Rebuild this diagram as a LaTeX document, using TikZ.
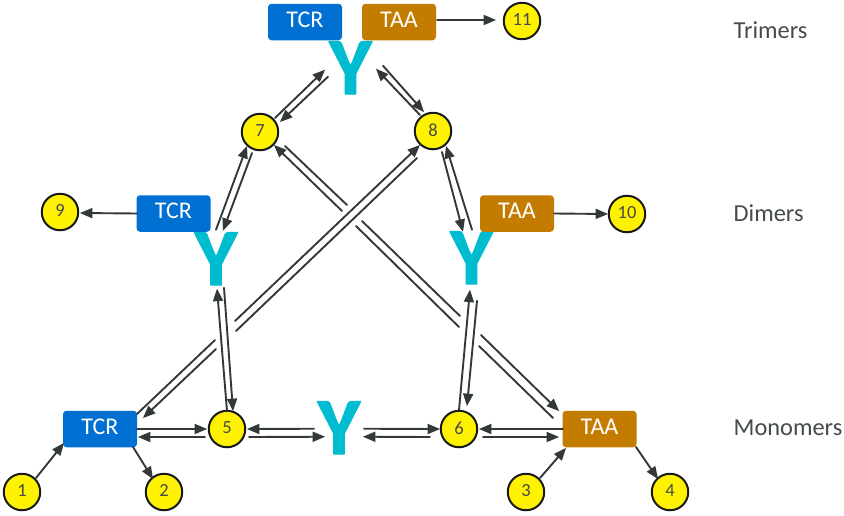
\documentclass[tikz,border=0pt]{standalone}
\usepackage{fontspec}
\setmainfont{Carlito}
\newfontfamily\yfont[FakeBold=1.6]{Carlito Bold}
\usetikzlibrary{arrows}
\definecolor{tcrblue}{HTML}{0070D2}
\definecolor{taabrown}{HTML}{C47C00}
\definecolor{ycyan}{HTML}{00BCD0}
\definecolor{linkgrey}{HTML}{333838}
\definecolor{labelgrey}{HTML}{454A4A}
\tikzset{
	numnode/.style={circle,draw=black!90,line width=2pt,fill=yellow,minimum size=36.5pt,inner sep=0pt,text=labelgrey,text depth=2.5pt,font=\fontsize{18.5}{18.5}\selectfont},
	tcrbox/.style={rectangle,rounded corners=3.5pt,fill=tcrblue,minimum width=74pt,minimum height=36.5pt,inner sep=0pt,text=white,text depth=5pt,font=\fontsize{24}{24}\selectfont},
	taabox/.style={tcrbox,fill=taabrown},
	ymark/.style={anchor=base,inner sep=0pt,text=ycyan,font=\fontsize{81}{81}\yfont},
	rowlabel/.style={anchor=base west,inner sep=0pt,text=labelgrey,font=\fontsize{24.4}{24.4}\selectfont},
	link/.style={line width=1.9pt,color=linkgrey},
}
\begin{document}
\begin{tikzpicture}[line cap=round,line join=round,>=triangle 45,x=1pt,y=-1pt]
	\useasboundingbox (0,0) rectangle (844,515);
	% antibodies
	\node[ymark] (yM) at (339,454) {Y};
	\node[ymark] (yL) at (216,285) {Y};
	\node[ymark] (yR) at (471.5,284) {Y};
	\node[ymark] (yT) at (350.5,94) {Y};
	% antigen boxes
	\node[tcrbox] (tcrM) at (100,429) {TCR};
	\node[taabox] (taaM) at (599.5,429) {TAA};
	\node[tcrbox] (tcrD) at (173.5,213.5) {TCR};
	\node[taabox] (taaD) at (517,213.5) {TAA};
	\node[tcrbox] (tcrT) at (305,22) {TCR};
	\node[taabox] (taaT) at (399,22) {TAA};
	% states
	\node[numnode] (n1) at (22,492) {1};
	\node[numnode] (n2) at (164,492) {2};
	\node[numnode] (n3) at (526,492) {3};
	\node[numnode] (n4) at (670,492) {4};
	\node[numnode] (n5) at (227,429) {5};
	\node[numnode] (n6) at (459,429) {6};
	\node[numnode] (n7) at (260,132) {7};
	\node[numnode] (n8) at (433,131) {8};
	\node[numnode] (n9) at (60,212) {9};
	\node[numnode] (n10) at (627,214) {10};
	\node[numnode] (n11) at (522,21) {11};
	% row labels
	\node[rowlabel] (trimers) at (733.5,38) {Trimers};
	\node[rowlabel] (dimers) at (733.5,221) {Dimers};
	\node[rowlabel] (monomers) at (733.5,435) {Monomers};
	% gap ends of the crossing lines
	\coordinate (ga1) at (215,340);
	\coordinate (ga2) at (235,321);
	\coordinate (gb1) at (216,349);
	\coordinate (gb2) at (236,331);
	\coordinate (gc1) at (347,205);
	\coordinate (gc2) at (362,221);
	\coordinate (gc3) at (460,316);
	\coordinate (gc4) at (481,335);
	\coordinate (gd1) at (342,211);
	\coordinate (gd2) at (356,226);
	\coordinate (gd3) at (459,327);
	\coordinate (gd4) at (479,346);
	% single arrows
	\draw[link,->] ([shift={(14,-14)}]n1.center) -- ([shift={(-36,14)}]tcrM.center);
	\draw[link,->] ([shift={(33,18)}]tcrM.center) -- ([shift={(-11,-13)}]n2.center);
	\draw[link,->] ([shift={(14,-14)}]n3.center) -- ([shift={(-33.5,19)}]taaM.center);
	\draw[link,->] ([shift={(36.5,18)}]taaM.center) -- ([shift={(-12,-13)}]n4.center);
	\draw[link,->] ([shift={(-36.5,0)}]tcrD.center) -- ([shift={(20,1)}]n9.center);
	\draw[link,->] ([shift={(37,0)}]taaD.center) -- ([shift={(-19,0)}]n10.center);
	\draw[link,->] ([shift={(38,-2)}]taaT.center) -- ([shift={(-26,-1)}]n11.center);
	% monomer row
	\draw[link,->] ([shift={(37,0)}]tcrM.center) -- ([shift={(-20,0)}]n5.center);
	\draw[link,->] ([shift={(-22,8)}]n5.center) -- ([shift={(38,8)}]tcrM.center);
	\draw[link,->] ([shift={(-25,1)}]yM.center) -- ([shift={(20,0)}]n5.center);
	\draw[link,->] ([shift={(22,8)}]n5.center) -- ([shift={(-14,9)}]yM.center);
	\draw[link,->] ([shift={(25,1)}]yM.center) -- ([shift={(-19,0)}]n6.center);
	\draw[link,->] ([shift={(-29,8)}]n6.center) -- ([shift={(24,9)}]yM.center);
	\draw[link,->] ([shift={(-36.5,0)}]taaM.center) -- ([shift={(20,0)}]n6.center);
	\draw[link,->] ([shift={(24,8)}]n6.center) -- ([shift={(-40.5,8)}]taaM.center);
	% long diagonals, broken at the crossings
	\draw[link] ([shift={(37,-15)}]tcrM.center) -- (ga1);
	\draw[link,->] (ga2) -- ([shift={(-13,14)}]n8.center);
	\draw[link] ([shift={(-16,27)}]n8.center) -- (gb2);
	\draw[link,->] (gb1) -- ([shift={(43,-11)}]tcrM.center);
	\draw[link] ([shift={(25,14)}]n7.center) -- (gc1);
	\draw[link] (gc2) -- (gc3);
	\draw[link,->] (gc4) -- ([shift={(-40.5,-18)}]taaM.center);
	\draw[link] ([shift={(-46.5,-11)}]taaM.center) -- (gd4);
	\draw[link] (gd3) -- (gd2);
	\draw[link,->] (gd1) -- ([shift={(14,13)}]n7.center);
	% dimers
	\draw[link,->] ([shift={(0,-18)}]n5.center) -- ([shift={(1,30)}]yL.center);
	\draw[link,->] ([shift={(8,29)}]yL.center) -- ([shift={(6,-18)}]n5.center);
	\draw[link,->] ([shift={(0,-19)}]n6.center) -- ([shift={(-1.5,32)}]yR.center);
	\draw[link,->] ([shift={(5.5,43)}]yR.center) -- ([shift={(8,-23)}]n6.center);
	\draw[link,->] ([shift={(0,-29)}]yL.center) -- ([shift={(-13,14)}]n7.center);
	\draw[link,->] ([shift={(-8,21)}]n7.center) -- ([shift={(7,-28)}]yL.center);
	\draw[link,->] ([shift={(0.5,-28)}]yR.center) -- ([shift={(13,15)}]n8.center);
	\draw[link,->] ([shift={(9,21)}]n8.center) -- ([shift={(-8.5,-26)}]yR.center);
	% trimer
	\draw[link,->] ([shift={(15,-14)}]n7.center) -- ([shift={(-25.5,2)}]yT.center);
	\draw[link,->] ([shift={(-22.5,9)}]yT.center) -- ([shift={(20,-10)}]n7.center);
	\draw[link,->] ([shift={(-13,-16)}]n8.center) -- ([shift={(25.5,1)}]yT.center);
	\draw[link,->] ([shift={(32.5,-2)}]yT.center) -- ([shift={(-9,-19)}]n8.center);
\end{tikzpicture}
\end{document}
